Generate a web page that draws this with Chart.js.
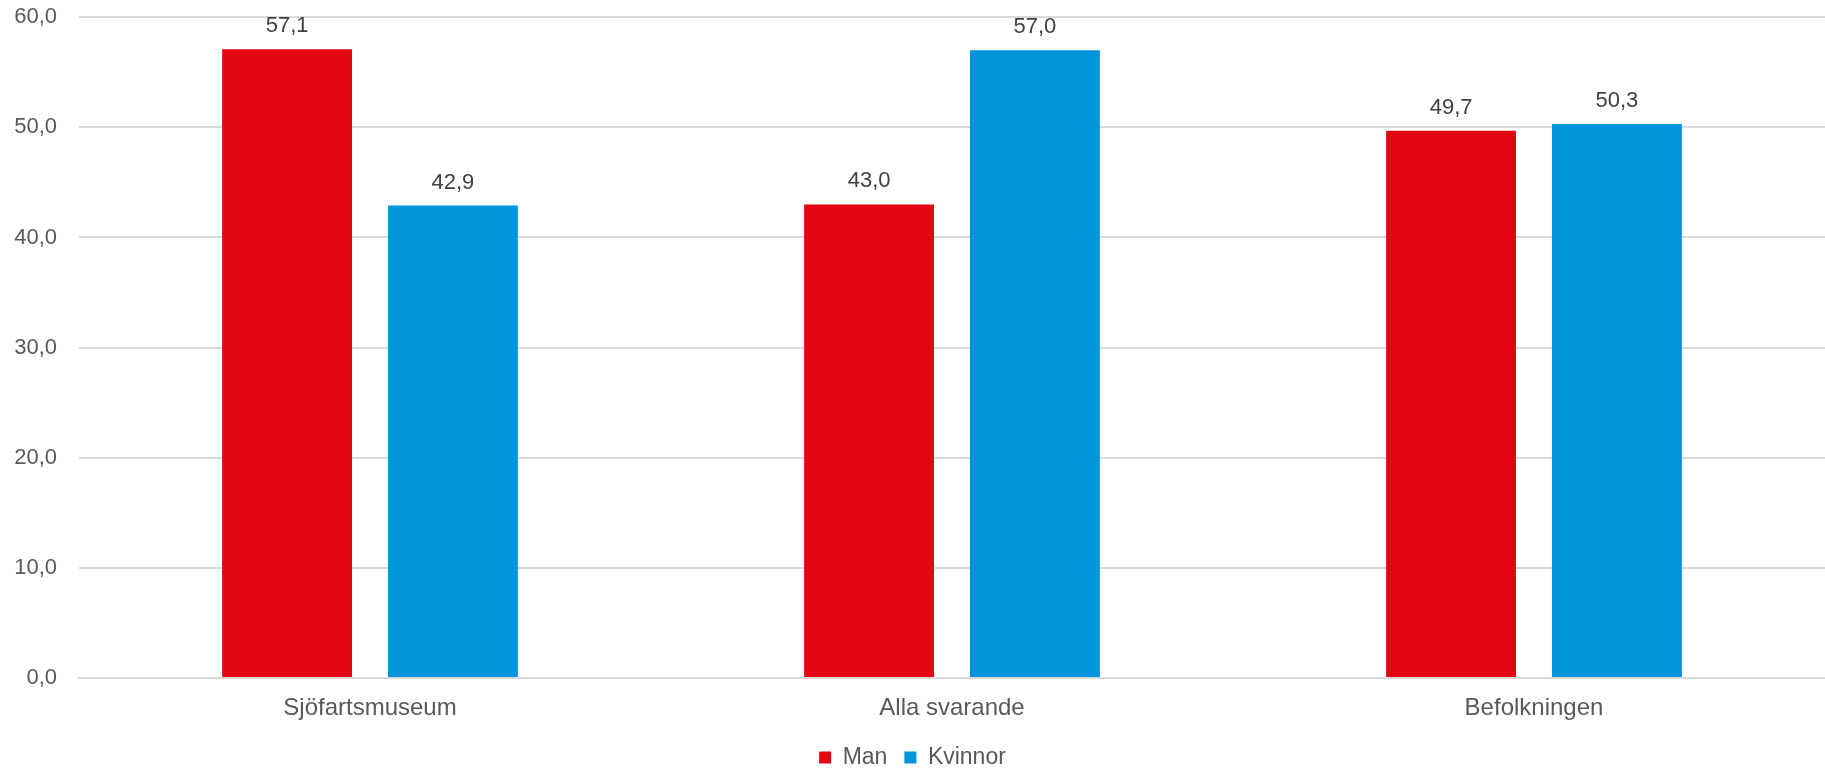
<!DOCTYPE html>
<html>
<head>
<meta charset="utf-8">
<script src="https://cdn.jsdelivr.net/npm/chart.js@4/dist/chart.umd.min.js"></script>
<style>
  html, body { margin: 0; padding: 0; background: #fff; }
  #wrap { width: 1825px; height: 771px; position: relative; }
</style>
</head>
<body>
<div id="wrap"><canvas id="chart"></canvas></div>
<script>
const categories = ['Sjöfartsmuseum', 'Alla svarande', 'Befolkningen'];
const manValues = [57.1, 43.0, 49.7];
const kvinnorValues = [42.9, 57.0, 50.3];
const yTicks = [0, 10, 20, 30, 40, 50, 60];

const FONT = '"Liberation Sans", Arial, sans-serif';
const fmt = v => v.toFixed(1).replace('.', ',');

// value labels above each bar
const barLabels = {
  id: 'barLabels',
  afterDatasetsDraw(chart) {
    const ctx = chart.ctx;
    ctx.save();
    ctx.font = '22px ' + FONT;
    ctx.fillStyle = '#404040';
    ctx.textAlign = 'center';
    ctx.textBaseline = 'alphabetic';
    chart.data.datasets.forEach((ds, i) => {
      chart.getDatasetMeta(i).data.forEach((bar, j) => {
        ctx.fillText(fmt(ds.data[j]), bar.x, bar.y - 17);
      });
    });
    ctx.restore();
  }
};

new Chart(document.getElementById('chart'), {
  type: 'bar',
  data: {
    labels: categories,
    datasets: [
      { label: 'Man', data: manValues, backgroundColor: '#E30613' },
      { label: 'Kvinnor', data: kvinnorValues, backgroundColor: '#0095DA' }
    ]
  },
  options: {
    responsive: true,
    maintainAspectRatio: false,
    animation: false,
    categoryPercentage: 0.57,
    barPercentage: 0.783,
    layout: { padding: { top: 0, right: 0, bottom: -8, left: 0 } },
    plugins: {
      legend: {
        position: 'bottom',
        labels: {
          boxWidth: 12, boxHeight: 12, padding: 17,
          color: '#595959',
          font: { family: FONT, size: 23 }
        }
      },
      tooltip: { enabled: false }
    },
    scales: {
      x: {
        afterFit: axis => { axis.height = 51; },
        grid: { display: false, drawTicks: false },
        border: { display: true, color: '#d9d9d9', width: 2 },
        ticks: { color: '#595959', padding: 16, font: { family: FONT, size: 24 } }
      },
      y: {
        min: 0, max: 60,
        afterBuildTicks: axis => { axis.ticks = yTicks.map(v => ({ value: v })); },
        afterFit: axis => { axis.width = 79; },
        grid: { color: '#d9d9d9', lineWidth: 2, drawTicks: true, tickLength: 18, tickColor: 'transparent' },
        border: { display: false },
        ticks: { color: '#595959', padding: 4, callback: v => fmt(v), font: { family: FONT, size: 22 } }
      }
    }
  },
  plugins: [barLabels]
});
</script>
</body>
</html>
